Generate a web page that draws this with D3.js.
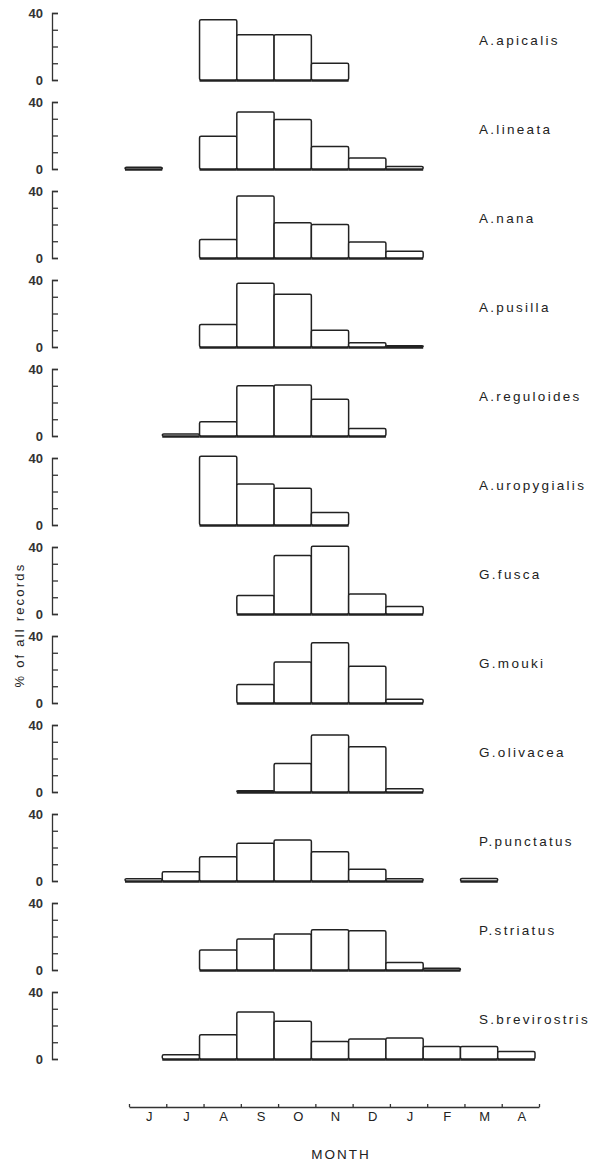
<!DOCTYPE html>
<html>
<head>
<meta charset="utf-8">
<script src="https://cdn.jsdelivr.net/npm/d3@7"></script>
<style>
  body { margin: 0; background: #fff; }
  text { font-family: "Liberation Sans", Arial, sans-serif; fill: #222; }
  .axis text { font-size: 13px; font-weight: bold; fill: #333; }
  .axis path, .axis line { stroke: #333; stroke-width: 1.3; }
  .months text { font-size: 13px; font-weight: normal; }
</style>
</head>
<body>
<div class="chart"></div>
<script>
// months Jun .. Apr
const months = ["J","J","A","S","O","N","D","J","F","M","A"];
const species = ["A.apicalis","A.lineata","A.nana","A.pusilla","A.reguloides","A.uropygialis",
  "G.fusca","G.mouki","G.olivacea","P.punctatus","P.striatus","S.brevirostris"];

// % of all records per month, null = no bar
const apicalis     = [null, null, 36, 27, 27, 10, null, null, null, null, null];
const lineata      = [1, null, 19.5, 34, 29.5, 13.5, 6.5, 1.5, null, null, null];
const nana         = [null, null, 11, 37, 21, 20, 9.5, 4, null, null, null];
const pusilla      = [null, null, 13.5, 38, 31.5, 10, 2.5, 0.8, null, null, null];
const reguloides   = [null, 1.2, 8.5, 30, 30.5, 22, 4.5, null, null, null, null];
const uropygialis  = [null, null, 41, 24.5, 22, 7.5, null, null, null, null, null];
const fusca        = [null, null, null, 11, 35, 40.5, 12, 4.5, null, null, null];
const mouki        = [null, null, null, 11, 24.5, 36, 22, 2.2, null, null, null];
const olivacea     = [null, null, null, 0.8, 17, 34, 27, 2, null, null, null];
const punctatus    = [1.4, 5.5, 14.5, 22.5, 24.5, 17.5, 7, 1.4, null, 1.5, null];
const striatus     = [null, null, 12, 18.5, 21.5, 24, 23.5, 4.5, 1, null, null];
const brevirostris = [null, 2.5, 14.5, 28, 22.5, 10.5, 12, 12.5, 7.5, 7.5, 4.5];

const series = [apicalis, lineata, nana, pusilla, reguloides, uropygialis,
  fusca, mouki, olivacea, punctatus, striatus, brevirostris];

const width = 603, height = 1162;

const svg = d3.select(".chart").append("svg")
  .attr("width", width)
  .attr("height", height);

svg.append("rect").attr("width", width).attr("height", height).attr("fill", "#fff");

// month scale (bar edges)
const x = d3.scaleLinear()
  .domain([0, 11])
  .range([125, 535]);

// baseline of each panel
const panelScale = d3.scalePoint()
  .domain(species)
  .range([80, 1059]);

const panelH = 67;

species.forEach((name, k) => {
  const base = panelScale(name);
  const y = d3.scaleLinear().domain([0, 40]).range([base, base - panelH]);
  const g = svg.append("g");

  const vals = series[k].map((v, i) => ({ i: i, v: v })).filter(d => d.v !== null);

  // baseline under the bars
  g.selectAll("line.base")
    .data(vals)
    .enter()
    .append("line")
    .attr("class", "base")
    .attr("x1", d => x(d.i))
    .attr("x2", d => x(d.i + 1))
    .attr("y1", base + 0.5)
    .attr("y2", base + 0.5)
    .attr("stroke", "#222")
    .attr("stroke-width", 2.4);

  g.selectAll("rect.bar")
    .data(vals)
    .enter()
    .append("rect")
    .attr("class", "bar")
    .attr("x", d => x(d.i))
    .attr("y", d => y(d.v))
    .attr("width", d => x(d.i + 1) - x(d.i))
    .attr("height", d => Math.max(base - y(d.v), 1))
    .attr("rx", 1.5)
    .attr("fill", "#fff")
    .attr("stroke", "#222")
    .attr("stroke-width", 1.5);

  // bracket-like y axis
  const yAxis = d3.axisLeft(y)
    .tickValues([0, 10, 20, 30, 40])
    .tickSizeInner(-6)
    .tickSizeOuter(-6)
    .tickPadding(9)
    .tickFormat(d => (d === 0 || d === 40) ? d : "");

  svg.append("g")
    .attr("class", "axis y-axis")
    .attr("transform", "translate(52,0)")
    .call(yAxis);

  svg.append("text")
    .attr("x", 479)
    .attr("y", base - 40)
    .attr("dy", "0.35em")
    .attr("font-size", "13.5px")
    .attr("letter-spacing", "2.3px")
    .text(name);
});

// y title
svg.append("text")
  .attr("transform", "translate(24,625) rotate(-90)")
  .attr("text-anchor", "middle")
  .attr("font-size", "13px")
  .attr("letter-spacing", "2.2px")
  .text("% of all records");

// x axis
const xAxis = d3.axisBottom(x)
  .tickValues(d3.range(12))
  .tickSizeInner(-3)
  .tickSizeOuter(0)
  .tickFormat("");

svg.append("g")
  .attr("class", "axis x-axis")
  .attr("transform", "translate(4,1107)")
  .call(xAxis)
  .selectAll("path, line").attr("stroke-width", 1);

const monthAxis = d3.axisBottom(x)
  .tickValues(d3.range(11).map(i => i + 0.5))
  .tickSize(0)
  .tickPadding(5)
  .tickFormat(d => months[Math.floor(d)]);

svg.append("g")
  .attr("class", "months")
  .attr("transform", "translate(5,1107)")
  .call(monthAxis)
  .call(g => g.select(".domain").remove());

svg.append("text")
  .attr("x", 341)
  .attr("y", 1159)
  .attr("text-anchor", "middle")
  .attr("font-size", "13.5px")
  .attr("letter-spacing", "2px")
  .text("MONTH");
</script>
</body>
</html>
